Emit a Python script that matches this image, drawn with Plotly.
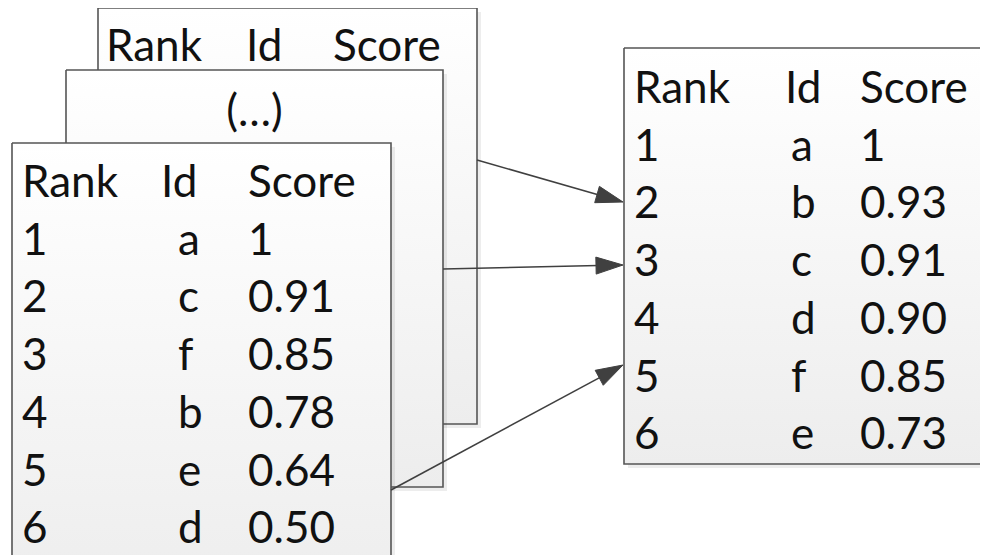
import math
import plotly.graph_objects as go

# ---------------- data ----------------
header_labels = ["Rank", "Id", "Score"]
ellipsis_label = "(…)"

front_ranks = [1, 2, 3, 4, 5, 6]
front_ids = ["a", "c", "f", "b", "e", "d"]
front_scores = [1, 0.91, 0.85, 0.78, 0.64, 0.50]

merged_ranks = [1, 2, 3, 4, 5, 6]
merged_ids = ["a", "b", "c", "d", "f", "e"]
merged_scores = [1, 0.93, 0.91, 0.90, 0.85, 0.73]


def fmt(v):
    return "1" if v == 1 else f"{v:.2f}"


# ---------------- layout constants ----------------
W, H = 988, 555
OFF = 8  # page body margin
FONT = "Lato, 'Open Sans', sans-serif"
FS = 44
TXT = "#111111"
BORDER = "#555555"
ROW = 57.7
TY = 4  # text baseline nudge

fig = go.Figure()


def box(x0, y0, x1, y1):
    # soft shadow
    fig.add_trace(go.Scatter(
        x=[x0 + 4, x1 + 4, x1 + 4, x0 + 4, x0 + 4],
        y=[y0 + 4, y0 + 4, y1 + 4, y1 + 4, y0 + 4],
        mode="lines", fill="toself", fillcolor="rgba(0,0,0,0.07)",
        line=dict(width=0), hoverinfo="skip"))
    fig.add_trace(go.Scatter(
        x=[x0, x1, x1, x0, x0], y=[y0, y0, y1, y1, y0],
        mode="lines", fill="toself",
        fillgradient=dict(type="vertical",
                          colorscale=[[0, "#ededed"], [1, "#ffffff"]]),
        line=dict(color=BORDER, width=1.6), hoverinfo="skip"))


def texts(xs, ys, labels):
    fig.add_trace(go.Scatter(
        x=xs, y=[y + TY for y in ys], text=labels, mode="text",
        textposition="middle right",
        textfont=dict(family=FONT, size=FS, color=TXT), hoverinfo="skip"))


# back table (only header visible)
box(98, 8, 477, 424)
texts([106, 246, 333], [46, 46, 46], header_labels)

# middle table "(...)"
box(66, 70, 443, 487)
fig.add_trace(go.Scatter(
    x=[254.5], y=[111 + TY], text=[ellipsis_label], mode="text",
    textposition="middle center",
    textfont=dict(family=FONT, size=FS, color=TXT), hoverinfo="skip"))

# front table
box(12, 143, 391, 600)
fy0 = 182
texts([22, 161, 248], [fy0] * 3, header_labels)
rows_y = [fy0 + ROW * (i + 1) for i in range(len(front_ranks))]
texts([22] * 6, rows_y, [str(r) for r in front_ranks])
texts([178] * 6, rows_y, front_ids)
texts([248] * 6, rows_y, [fmt(s) for s in front_scores])

# merged table
box(624, 48, 1010, 464)
my0 = 88
texts([634, 785, 860], [my0] * 3, header_labels)
mrows_y = [my0 + ROW * (i + 1) for i in range(len(merged_ranks))]
texts([634] * 6, mrows_y, [str(r) for r in merged_ranks])
texts([791] * 6, mrows_y, merged_ids)
texts([860] * 6, mrows_y, [fmt(s) for s in merged_scores])

# arrows
arrows = [((477, 160), (623, 202)),
          ((443, 269), (623, 265)),
          ((391, 490), (623, 365))]
AC = "#404040"
for (sx, sy), (ex, ey) in arrows:
    dx, dy = ex - sx, ey - sy
    n = math.hypot(dx, dy)
    ux, uy = dx / n, dy / n
    L, w = 27, 8.5
    bx, by = ex - L * ux, ey - L * uy
    px, py = -uy, ux
    fig.add_trace(go.Scatter(x=[sx, bx + 2 * ux], y=[sy, by + 2 * uy], mode="lines",
                             line=dict(color=AC, width=1.6), hoverinfo="skip"))
    fig.add_trace(go.Scatter(
        x=[ex, bx + w * px, bx - w * px, ex],
        y=[ey, by + w * py, by - w * py, ey],
        mode="lines", fill="toself", fillcolor=AC,
        line=dict(color=AC, width=1), hoverinfo="skip"))

fig.update_layout(
    width=W, height=H, margin=dict(l=0, r=0, t=0, b=0),
    paper_bgcolor="white", plot_bgcolor="white", showlegend=False,
    xaxis=dict(range=[OFF, W + OFF], visible=False, fixedrange=True),
    yaxis=dict(range=[H + OFF, OFF], visible=False, fixedrange=True),
)
fig.write_html("out.html")
